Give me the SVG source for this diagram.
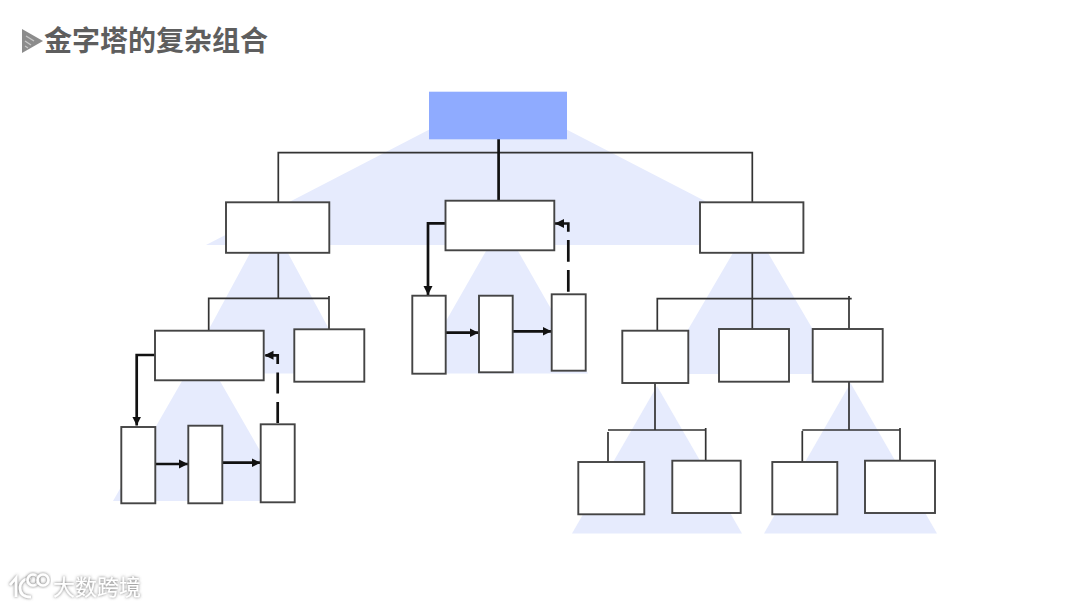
<svg xmlns="http://www.w3.org/2000/svg" width="1080" height="607" viewBox="0 0 1080 607">
<style>
.pyr{fill:#e6ebfd}
.box{fill:#fff;stroke:#444;stroke-width:1.9}
.thin{fill:none;stroke:#333;stroke-width:1.7}
.thick{fill:none;stroke:#111;stroke-width:2.7}
.arrow{fill:none;stroke:#111;stroke-width:2.7;marker-end:url(#ah)}
.title{font-family:"Noto Sans CJK SC","Noto Sans",sans-serif;font-size:28px;font-weight:700;fill:#5e5e5e}
.wm{font-family:"Noto Sans CJK SC","Noto Sans",sans-serif;font-size:22px;font-weight:400;fill:#fff;filter:url(#sh)}
.logo{fill:none;stroke:#fff;stroke-width:2.6;filter:url(#sh)}
</style>
<defs>
<marker id="ah" markerUnits="userSpaceOnUse" markerWidth="11" markerHeight="11" refX="9" refY="5" orient="auto"><path d="M0 0.5L9 5L0 9.5Z" fill="#111"/></marker>
<filter id="sh" x="-20%" y="-30%" width="140%" height="160%"><feDropShadow dx="0" dy="0" stdDeviation="1.4" flood-color="#666" flood-opacity="1"/></filter>
</defs>
<rect width="1080" height="607" fill="#fff"/>
<g id="pyramids">
<polygon class="pyr" points="498,94 790,245 206,245"/>
<polygon class="pyr" points="269,218 353,373.5 185,373.5"/>
<polygon class="pyr" points="502,223 588,373.5 416,373.5"/>
<polygon class="pyr" points="750.5,223 839,374 662,374"/>
<polygon class="pyr" points="201,348 289,501 113,501"/>
<polygon class="pyr" points="657,386 742,533.5 572,533.5"/>
<polygon class="pyr" points="850.5,383 937,533.5 764,533.5"/>
</g>
<g id="title">
<path d="M22 29L43 41L22 53Z" fill="#8c8c8c"/>
<path d="M26 36L34 41M25 41L31 45M25 46L28 48" stroke="#c8c8c8" stroke-width="1.4" fill="none"/>
<text class="title" x="44" y="51">金字塔的复杂组合</text>
</g>
<g id="connectors">
<path class="thin" d="M278.3 202V152.7H752.3V202"/>
<path class="thick" d="M498.6 139V201"/>
<path class="thin" d="M278.3 253V298.3M208.7 331V298.3H329M329 296V329.5"/>
<path class="thin" d="M752.3 253V329M657.3 330.5V298.7H851.7M849 296V329"/>
<path class="thin" d="M655 383V430M608 430H706M608 432V462M705.7 428V461"/>
<path class="thin" d="M849 382V430M802.3 430H900M802.3 431V462M900 428V461"/>
<path class="arrow" d="M155 355H136.7V425.5"/>
<path class="arrow" d="M155.3 464H188"/>
<path class="arrow" d="M222.3 462.7H260.5"/>
<path class="arrow" stroke-dasharray="21 8.5" d="M277.7 423V355.3H264.5"/>
<path class="arrow" d="M445 223.3H428V295"/>
<path class="arrow" d="M445.7 332.7H478.5"/>
<path class="arrow" d="M512.7 331.3H551.5"/>
<path class="arrow" stroke-dasharray="21.7 8.3" d="M568.3 291.7V223.5H555"/>
</g>
<g id="root"><rect x="429" y="91.7" width="138" height="47.6" fill="#8fabff"/></g>
<g id="node-a"><rect class="box" x="226" y="202.3" width="103.3" height="50.5"/></g>
<g id="node-b"><rect class="box" x="445.5" y="200.7" width="108.8" height="49.6"/></g>
<g id="node-c"><rect class="box" x="700" y="202.3" width="103.4" height="50.5"/></g>
<g id="node-d"><rect class="box" x="155" y="330.7" width="108.7" height="49.6"/></g>
<g id="node-e"><rect class="box" x="294.3" y="329.3" width="70" height="52.4"/></g>
<g id="node-f"><rect class="box" x="121.3" y="427" width="34" height="76.3"/></g>
<g id="node-g"><rect class="box" x="188.3" y="425.7" width="34" height="77.6"/></g>
<g id="node-h"><rect class="box" x="260.7" y="424.3" width="34" height="78"/></g>
<g id="node-i"><rect class="box" x="412.3" y="295.7" width="33.4" height="78"/></g>
<g id="node-j"><rect class="box" x="479" y="295.7" width="33.7" height="76.6"/></g>
<g id="node-k"><rect class="box" x="551.7" y="294.3" width="34" height="76.4"/></g>
<g id="node-l"><rect class="box" x="622.3" y="330.7" width="66" height="52.3"/></g>
<g id="node-m"><rect class="box" x="719" y="329" width="70" height="52.7"/></g>
<g id="node-n"><rect class="box" x="812.7" y="329" width="70" height="52.7"/></g>
<g id="node-p"><rect class="box" x="578.3" y="462" width="66" height="52.3"/></g>
<g id="node-q"><rect class="box" x="672.3" y="460.7" width="68.4" height="52.3"/></g>
<g id="node-r"><rect class="box" x="772.3" y="462" width="65" height="52.3"/></g>
<g id="node-s"><rect class="box" x="865" y="460.7" width="70" height="52.3"/></g>
<g id="watermark">
<path class="logo" d="M10 585L16 578V597M31 578C24 578 20 583 20 588C20 594 24 597 31 597"/>
<circle class="logo" cx="33" cy="580" r="5.5"/>
<circle class="logo" cx="43" cy="580" r="5.5"/>
<text class="wm" x="53" y="595">大数跨境</text>
</g>
</svg>
